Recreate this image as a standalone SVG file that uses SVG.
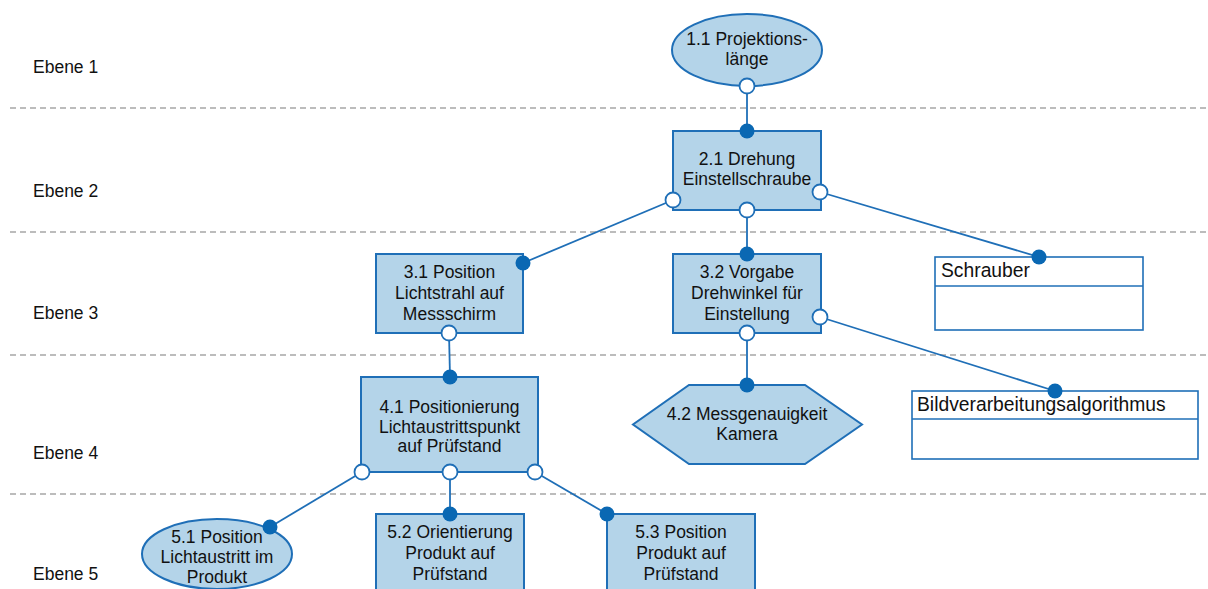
<svg xmlns="http://www.w3.org/2000/svg" width="1208" height="589" viewBox="0 0 1208 589">
  <defs>
    <style>
      .lvl { font-family: "Liberation Sans", Arial, sans-serif; font-size: 17.5px; fill: #111; }
      .sep { stroke: #a6a6a6; stroke-width: 1.5; stroke-dasharray: 6 4; fill: none; }
      .node { fill: #b4d4e9; stroke: #1f6fb7; stroke-width: 2; }
      .cls { fill: #ffffff; stroke: #1f6fb7; stroke-width: 1.6; }
      .lbl { font-family: "Liberation Sans", Arial, sans-serif; font-size: 17.5px; fill: #111; text-anchor: middle; }
      .clbl { font-family: "Liberation Sans", Arial, sans-serif; font-size: 19.3px; fill: #111; }
      .wire { stroke: #1f6fb7; stroke-width: 1.8; fill: none; }
      .open { fill: #ffffff; stroke: #1f6fb7; stroke-width: 1.8; }
      .dot { fill: #0a68b3; }
    </style>
  </defs>

  <!-- level separators and captions -->
  <g id="levels">
    <line class="sep" x1="10" y1="108" x2="1206" y2="108"/>
    <line class="sep" x1="10" y1="232" x2="1206" y2="232"/>
    <line class="sep" x1="10" y1="355" x2="1206" y2="355"/>
    <line class="sep" x1="10" y1="494" x2="1206" y2="494"/>
    <text class="lvl" x="33" y="73">Ebene 1</text>
    <text class="lvl" x="33" y="197">Ebene 2</text>
    <text class="lvl" x="33" y="319">Ebene 3</text>
    <text class="lvl" x="33" y="459">Ebene 4</text>
    <text class="lvl" x="33" y="580">Ebene 5</text>
  </g>

  <!-- connectors -->
  <g id="connectors">
    <line class="wire" x1="747" y1="86" x2="747" y2="131"/>
    <line class="wire" x1="673" y1="200" x2="523" y2="263"/>
    <line class="wire" x1="747" y1="210" x2="747" y2="254"/>
    <line class="wire" x1="820" y1="192" x2="1039" y2="257"/>
    <line class="wire" x1="449" y1="333" x2="450" y2="377"/>
    <line class="wire" x1="747" y1="333" x2="747" y2="385"/>
    <line class="wire" x1="820" y1="317" x2="1055" y2="391"/>
    <line class="wire" x1="362" y1="472" x2="270" y2="527"/>
    <line class="wire" x1="450" y1="472" x2="450" y2="514"/>
    <line class="wire" x1="535" y1="472" x2="607" y2="514"/>
  </g>

  <g id="n1_1">
    <ellipse class="node" cx="747" cy="50" rx="75" ry="36"/>
    <text class="lbl" x="747" y="45">1.1 Projektions-</text>
    <text class="lbl" x="747" y="65">länge</text>
  </g>

  <g id="n2_1">
    <rect class="node" x="673" y="131" width="148" height="79"/>
    <text class="lbl" x="747" y="165">2.1 Drehung</text>
    <text class="lbl" x="747" y="185">Einstellschraube</text>
  </g>

  <g id="n3_1">
    <rect class="node" x="376" y="254" width="147" height="79"/>
    <text class="lbl" x="449.5" y="278">3.1 Position</text>
    <text class="lbl" x="449.5" y="299">Lichtstrahl auf</text>
    <text class="lbl" x="449.5" y="320">Messschirm</text>
  </g>

  <g id="n3_2">
    <rect class="node" x="673" y="254" width="148" height="79"/>
    <text class="lbl" x="747" y="278">3.2 Vorgabe</text>
    <text class="lbl" x="747" y="299">Drehwinkel für</text>
    <text class="lbl" x="747" y="320">Einstellung</text>
  </g>

  <g id="schrauber">
    <rect class="cls" x="935" y="257" width="208" height="73"/>
    <line class="cls" x1="935" y1="286" x2="1143" y2="286"/>
    <text class="clbl" x="941" y="277">Schrauber</text>
  </g>

  <g id="n4_1">
    <rect class="node" x="361" y="377" width="177" height="95"/>
    <text class="lbl" x="449.5" y="413">4.1 Positionierung</text>
    <text class="lbl" x="449.5" y="432.5">Lichtaustrittspunkt</text>
    <text class="lbl" x="449.5" y="452">auf Prüfstand</text>
  </g>

  <g id="n4_2">
    <polygon class="node" points="689,385 805,385 862,424.5 805,464 689,464 633,424.5"/>
    <text class="lbl" x="747" y="420">4.2 Messgenauigkeit</text>
    <text class="lbl" x="747" y="440">Kamera</text>
  </g>

  <g id="bildverarbeitung">
    <rect class="cls" x="912" y="391" width="286" height="68"/>
    <line class="cls" x1="912" y1="419" x2="1198" y2="419"/>
    <text class="clbl" x="917" y="411">Bildverarbeitungsalgorithmus</text>
  </g>

  <g id="n5_1">
    <ellipse class="node" cx="217" cy="554" rx="75" ry="35"/>
    <text class="lbl" x="217" y="543">5.1 Position</text>
    <text class="lbl" x="217" y="563">Lichtaustritt im</text>
    <text class="lbl" x="217" y="583">Produkt</text>
  </g>

  <g id="n5_2">
    <rect class="node" x="376" y="514" width="148" height="90"/>
    <text class="lbl" x="450" y="538">5.2 Orientierung</text>
    <text class="lbl" x="450" y="559">Produkt auf</text>
    <text class="lbl" x="450" y="580">Prüfstand</text>
  </g>

  <g id="n5_3">
    <rect class="node" x="607" y="514" width="148" height="90"/>
    <text class="lbl" x="681" y="538">5.3 Position</text>
    <text class="lbl" x="681" y="559">Produkt auf</text>
    <text class="lbl" x="681" y="580">Prüfstand</text>
  </g>

  <!-- connector end markers: open circle = source, filled dot = target -->
  <g id="ends">
    <circle class="open" cx="747" cy="86" r="7.5"/>
    <circle class="dot" cx="747" cy="131" r="7.5"/>
    <circle class="open" cx="673" cy="200" r="7.5"/>
    <circle class="open" cx="820" cy="192" r="7.5"/>
    <circle class="open" cx="747" cy="210" r="7.5"/>
    <circle class="dot" cx="523" cy="263" r="7.5"/>
    <circle class="dot" cx="747" cy="254" r="7.5"/>
    <circle class="dot" cx="1039" cy="257" r="7.5"/>
    <circle class="open" cx="449" cy="333" r="7.5"/>
    <circle class="open" cx="747" cy="333" r="7.5"/>
    <circle class="open" cx="820" cy="317" r="7.5"/>
    <circle class="dot" cx="450" cy="377" r="7.5"/>
    <circle class="dot" cx="747" cy="385" r="7.5"/>
    <circle class="dot" cx="1055" cy="391" r="7.5"/>
    <circle class="open" cx="362" cy="472" r="7.5"/>
    <circle class="open" cx="450" cy="472" r="7.5"/>
    <circle class="open" cx="535" cy="472" r="7.5"/>
    <circle class="dot" cx="270" cy="527" r="7.5"/>
    <circle class="dot" cx="450" cy="514" r="7.5"/>
    <circle class="dot" cx="607" cy="514" r="7.5"/>
  </g>
</svg>
